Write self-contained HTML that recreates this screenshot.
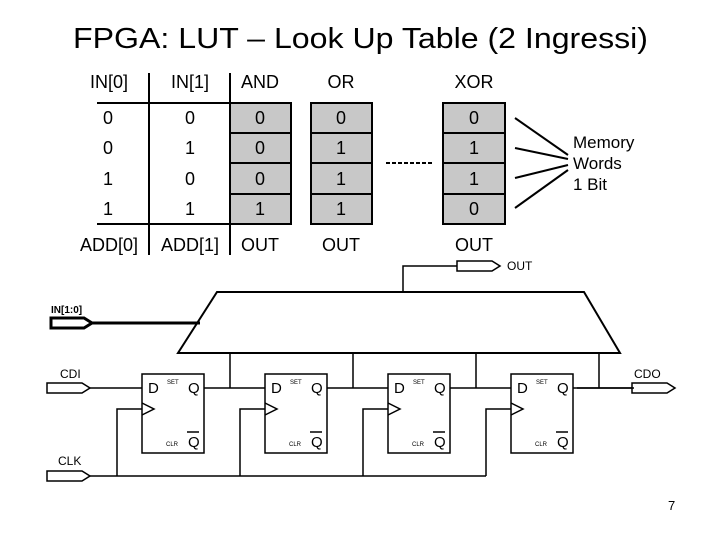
<!DOCTYPE html>
<html><head><meta charset="utf-8"><style>
body{margin:0;background:#fff;width:720px;height:540px;overflow:hidden}
svg{display:block}
text{font-family:"Liberation Sans",sans-serif;fill:#000}
</style></head><body>
<svg width="720" height="540" viewBox="0 0 720 540">
<text x="73" y="48" font-size="29" textLength="575" lengthAdjust="spacingAndGlyphs">FPGA: LUT – Look Up Table (2 Ingressi)</text>
<g stroke="#000" stroke-width="2" fill="none">
<line x1="149" y1="73" x2="149" y2="255"/><line x1="230" y1="73" x2="230" y2="255"/>
<line x1="97" y1="103" x2="230" y2="103"/><line x1="97" y1="224" x2="230" y2="224"/>
</g>
<g stroke="#000" stroke-width="2" fill="#c8c8c8">
<rect x="230" y="103" width="61" height="30"/><rect x="230" y="133" width="61" height="30"/><rect x="230" y="163" width="61" height="31"/><rect x="230" y="194" width="61" height="30"/>
<rect x="311" y="103" width="61" height="30"/><rect x="311" y="133" width="61" height="30"/><rect x="311" y="163" width="61" height="31"/><rect x="311" y="194" width="61" height="30"/>
<rect x="443" y="103" width="62" height="30"/><rect x="443" y="133" width="62" height="30"/><rect x="443" y="163" width="62" height="31"/><rect x="443" y="194" width="62" height="30"/>
</g>
<line x1="386" y1="163" x2="432" y2="163" stroke="#000" stroke-width="2" stroke-dasharray="4,2"/>
<g stroke="#000" stroke-width="2">
<line x1="515" y1="118" x2="568" y2="155"/><line x1="515" y1="148" x2="568" y2="159"/><line x1="515" y1="178" x2="568" y2="165"/><line x1="515" y1="208" x2="568" y2="170"/>
</g>
<g font-size="18" text-anchor="middle">
<text x="109" y="88">IN[0]</text><text x="190" y="88">IN[1]</text><text x="260" y="88">AND</text><text x="341" y="88">OR</text><text x="474" y="88">XOR</text>
<text x="108" y="124">0</text><text x="190" y="124">0</text><text x="260" y="124">0</text><text x="341" y="124">0</text><text x="474" y="124">0</text>
<text x="108" y="154">0</text><text x="190" y="154">1</text><text x="260" y="154">0</text><text x="341" y="154">1</text><text x="474" y="154">1</text>
<text x="108" y="185">1</text><text x="190" y="185">0</text><text x="260" y="185">0</text><text x="341" y="185">1</text><text x="474" y="185">1</text>
<text x="108" y="215">1</text><text x="190" y="215">1</text><text x="260" y="215">1</text><text x="341" y="215">1</text><text x="474" y="215">0</text>
<text x="109" y="251">ADD[0]</text><text x="190" y="251">ADD[1]</text><text x="260" y="251">OUT</text><text x="341" y="251">OUT</text><text x="474" y="251">OUT</text>
</g>
<g font-size="17"><text x="573" y="148">Memory</text><text x="573" y="169">Words</text><text x="573" y="190">1 Bit</text></g>

<g stroke="#000" stroke-width="1.5" fill="none">
<polygon points="217,292 584,292 620,353 178,353" stroke-width="2"/>
<polyline points="403,292 403,266 457,266"/>
<polygon points="457,261 492,261 500,266 492,271 457,271" fill="#fff"/>
<polygon points="51,318 84,318 92,323 84,328 51,328" stroke-width="3" fill="#fff"/>
<line x1="92" y1="323" x2="200" y2="323" stroke-width="3"/>
<polygon points="47,383 82,383 90,388 82,393 47,393" fill="#fff"/>
<polygon points="47,471 82,471 90,476 82,481 47,481" fill="#fff"/>
<polygon points="632,383 667,383 675,388 667,393 632,393" fill="#fff"/>
<line x1="90" y1="388" x2="142" y2="388"/>
<line x1="90" y1="476" x2="486" y2="476"/>
<line x1="577" y1="388" x2="632" y2="388"/>
</g>
<g font-size="12"><text x="507" y="270">OUT</text><text x="60" y="378">CDI</text><text x="58" y="465">CLK</text><text x="634" y="378">CDO</text></g>
<text x="51" y="313" font-size="10" font-weight="bold">IN[1:0]</text>

<g id="ff">
<g stroke="#000" stroke-width="1.5" fill="none">
<rect x="142" y="374" width="62" height="79"/>
<polyline points="142,403 154,409 142,415"/>
<polyline points="117,476 117,409 142,409"/>
<line x1="230" y1="353" x2="230" y2="388"/>
<line x1="204" y1="388" x2="265" y2="388"/>
<line x1="187" y1="432" x2="199" y2="432"/>
</g>
<text x="148" y="393" font-size="15">D</text><text x="167" y="384" font-size="6">SET</text><text x="188" y="393" font-size="15">Q</text>
<text x="166" y="446" font-size="6">CLR</text><text x="188" y="447" font-size="15">Q</text>
</g>
<use href="#ff" x="123"/><use href="#ff" x="246"/><use href="#ff" x="369"/>
<text x="668" y="510" font-size="13">7</text>
</svg>
</body></html>
